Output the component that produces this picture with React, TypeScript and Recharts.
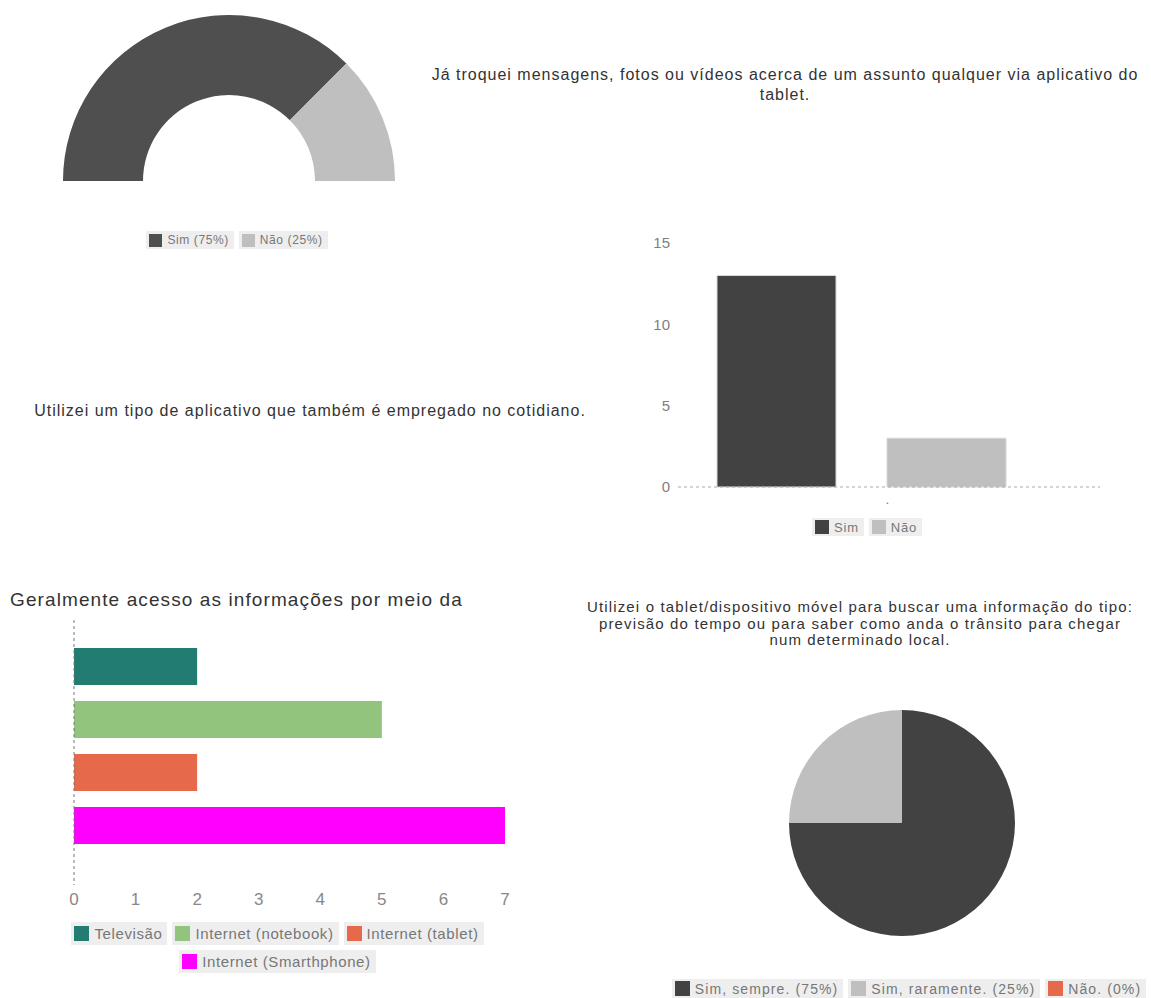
import { Bar, BarChart, Cell, Pie, PieChart, XAxis, YAxis } from 'recharts';

// chart 1 - half donut
const msgLabels = ['Sim (75%)', 'Não (25%)'];
const msgValues = [75, 25];
const msgColors = ['#4f4f4f', '#bfbfbf'];
const msgTitle = 'Já troquei mensagens, fotos ou vídeos acerca de um assunto qualquer via aplicativo do tablet.';

// chart 2 - column
const appCategory = ['.'];
const appSeries = ['Sim', 'Não'];
const appValues = [13, 3];
const appColors = ['#424242', '#bfbfbf'];
const appTicks = [0, 5, 10, 15];
const appTitle = 'Utilizei um tipo de aplicativo que também é empregado no cotidiano.';

// chart 3 - horizontal bars
const mediaSeries = ['Televisão', 'Internet (notebook)', 'Internet (tablet)', 'Internet (Smarthphone)'];
const mediaValues = [2, 5, 2, 7];
const mediaColors = ['#227c72', '#93c47d', '#e6694b', '#ff00ff'];
const mediaTicks = [0, 1, 2, 3, 4, 5, 6, 7];
const mediaTitle = 'Geralmente acesso as informações por meio da';

// chart 4 - pie
const infoLabels = ['Sim, sempre. (75%)', 'Sim, raramente. (25%)', 'Não. (0%)'];
const infoValues = [75, 25, 0];
const infoColors = ['#424242', '#bfbfbf', '#e6694b'];
const infoTitle =
  'Utilizei o tablet/dispositivo móvel para buscar uma informação do tipo: previsão do tempo ou para saber como anda o trânsito para chegar num determinado local.';

const FONT = '"Liberation Sans", Arial, sans-serif';

interface LegendProps {
  labels: string[];
  colors: string[];
  left: number;
  top: number;
  width: number;
  fontSize: number;
  swatch: number;
  itemHeight: number;
  letterSpacing?: number;
  rowGap?: number;
}

function BoxLegend({ labels, colors, left, top, width, fontSize, swatch, itemHeight, letterSpacing = 0, rowGap = 5 }: LegendProps) {
  return (
    <div
      style={{
        position: 'absolute',
        left,
        top,
        width,
        display: 'flex',
        flexWrap: 'wrap',
        justifyContent: 'center',
        rowGap,
        columnGap: 5,
        fontFamily: FONT,
        fontSize,
        color: '#777',
        letterSpacing
      }}
    >
      {labels.map((l, i) => (
        <div
          key={l}
          style={{
            display: 'flex',
            alignItems: 'center',
            height: itemHeight,
            background: '#eeeeee',
            padding: '0 5px 0 3px',
            whiteSpace: 'nowrap'
          }}
        >
          <span style={{ width: swatch, height: swatch, background: colors[i], marginRight: 5, display: 'inline-block' }} />
          {l}
        </div>
      ))}
    </div>
  );
}

const textStyle = (
  left: number,
  top: number,
  width: number,
  fontSize: number,
  lineHeight: number,
  letterSpacing: number,
  align: 'center' | 'left' = 'center'
) => ({
  position: 'absolute' as const,
  left,
  top,
  width,
  fontFamily: FONT,
  fontSize,
  color: '#333',
  textAlign: align,
  lineHeight: `${lineHeight}px`,
  letterSpacing
});

export default function App() {
  const donutData = msgLabels.map((name, i) => ({ name, value: msgValues[i] }));
  const appData = appCategory.map((name) => {
    const row: Record<string, string | number> = { name };
    appSeries.forEach((s, i) => (row[s] = appValues[i]));
    return row;
  });
  const mediaData = [
    mediaSeries.reduce<Record<string, string | number>>((row, s, i) => {
      row[s] = mediaValues[i];
      return row;
    }, { name: '' })
  ];
  const pieData = infoLabels.map((name, i) => ({ name, value: infoValues[i] }));

  return (
    <div style={{ position: 'absolute', left: 0, top: 0, width: 1151, height: 998, background: '#fff', overflow: 'hidden' }}>
      {/* half donut */}
      <div style={{ position: 'absolute', left: 29, top: 0 }}>
        <PieChart width={400} height={200}>
          <Pie
            data={donutData}
            dataKey="value"
            cx={195}
            cy={176}
            startAngle={180}
            endAngle={0}
            innerRadius={86}
            outerRadius={166}
            stroke="none"
            isAnimationActive={false}
          >
            {donutData.map((d, i) => (
              <Cell key={d.name} fill={msgColors[i]} />
            ))}
          </Pie>
        </PieChart>
      </div>
      <BoxLegend labels={msgLabels} colors={msgColors} left={37} top={231} width={400} fontSize={12} swatch={13} itemHeight={18} letterSpacing={0.6} />
      <div style={textStyle(420, 65, 730, 16, 20, 1)}>{msgTitle}</div>

      {/* column chart */}
      <div style={textStyle(10, 401, 600, 16, 20, 1)}>{appTitle}</div>
      <div style={{ position: 'absolute', left: 620, top: 225 }}>
        <BarChart width={520} height={300} data={appData} margin={{ top: 18, right: 40, left: 0, bottom: 8 }} barSize={119} barGap={51}>
          <XAxis
            dataKey="name"
            padding={{ left: 0, right: 55 }}
            axisLine={{ stroke: '#aaa', strokeDasharray: '3 3' }}
            tickLine={false}
            tick={{ fill: '#666', fontSize: 12, fontFamily: FONT, dx: 26 }}
            height={30}
          />
          <YAxis
            domain={[0, 15]}
            ticks={appTicks}
            width={58}
            axisLine={false}
            tickLine={false}
            tick={{ fill: '#808080', fontSize: 15, fontFamily: FONT }}
          />
          {appSeries.map((s, i) => (
            <Bar key={s} dataKey={s} fill={appColors[i]} stroke="#d8d8d8" strokeWidth={1} isAnimationActive={false} />
          ))}
        </BarChart>
      </div>
      <BoxLegend labels={appSeries} colors={appColors} left={617} top={518} width={500} fontSize={13} swatch={14} itemHeight={18} letterSpacing={0.8} />

      {/* horizontal bars */}
      <div style={textStyle(10, 588, 540, 19, 24, 1.1, 'left')}>{mediaTitle}</div>
      <div style={{ position: 'absolute', left: 0, top: 610 }}>
        <BarChart
          layout="vertical"
          width={540}
          height={310}
          data={mediaData}
          margin={{ top: 10, right: 35, left: 73, bottom: 5 }}
          barSize={37}
          barGap={16}
        >
          <XAxis
            type="number"
            domain={[0, 7]}
            ticks={mediaTicks}
            axisLine={false}
            tickLine={false}
            height={30}
            tick={{ fill: '#888', fontSize: 17, fontFamily: FONT }}
          />
          <YAxis
            type="category"
            dataKey="name"
            width={1}
            padding={{ top: 0, bottom: 14 }}
            tick={false}
            tickLine={false}
            axisLine={{ stroke: '#777', strokeDasharray: '3 3' }}
          />
          {mediaSeries.map((s, i) => (
            <Bar key={s} dataKey={s} fill={mediaColors[i]} isAnimationActive={false} />
          ))}
        </BarChart>
      </div>
      <BoxLegend
        labels={mediaSeries}
        colors={mediaColors}
        left={37}
        top={922}
        width={481}
        fontSize={15}
        swatch={15}
        itemHeight={23}
        letterSpacing={0.6}
        rowGap={5}
      />

      {/* pie */}
      <div style={textStyle(585, 599, 550, 15, 16.5, 1.15)}>{infoTitle}</div>
      <div style={{ position: 'absolute', left: 660, top: 680 }}>
        <PieChart width={490} height={290}>
          <Pie
            data={pieData}
            dataKey="value"
            cx={237}
            cy={138}
            startAngle={90}
            endAngle={-270}
            outerRadius={113}
            stroke="none"
            isAnimationActive={false}
          >
            {pieData.map((d, i) => (
              <Cell key={d.name} fill={infoColors[i]} />
            ))}
          </Pie>
        </PieChart>
      </div>
      <BoxLegend labels={infoLabels} colors={infoColors} left={664} top={979} width={490} fontSize={14} swatch={15} itemHeight={19} letterSpacing={1.1} />
    </div>
  );
}
